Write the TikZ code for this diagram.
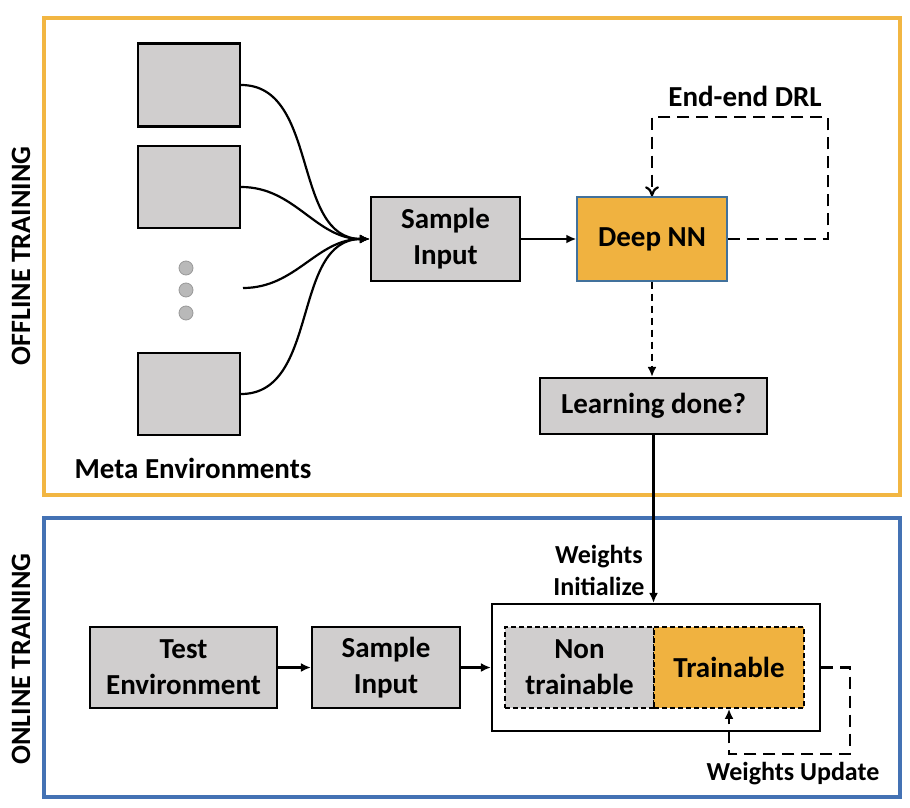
\documentclass[tikz,border=0pt]{standalone}
\usepackage{fontspec}
\setmainfont{Carlito}
\usetikzlibrary{arrows.meta}
\definecolor{boxgray}{RGB}{208,206,206}
\definecolor{nnorange}{RGB}{240,178,64}
\definecolor{offorange}{RGB}{242,182,66}
\definecolor{onblue}{RGB}{68,114,180}
\definecolor{nnborder}{RGB}{65,113,156}
\begin{document}
\begin{tikzpicture}[x=1pt,y=-1pt,
    blk/.style={draw=black, line width=2.2pt, fill=boxgray, align=center,
        inner sep=0pt, font=\fontsize{29}{36}\selectfont\bfseries},
    part/.style={blk, line width=1.8pt, dash pattern=on 5pt off 3pt},
    lbl/.style={font=\fontsize{26}{32}\selectfont\bfseries, align=center},
    arr/.style={line width=2.2pt, -{Latex[length=10pt,width=9pt]}},
    dashline/.style={line width=2.2pt, dash pattern=on 12pt off 7pt}]
    \useasboundingbox (0,0) rectangle (910,808);
    % the two stages
    \draw[offorange, line width=3.8pt] (44,18) rectangle (900,495);
    \draw[onblue, line width=3.8pt] (44,518) rectangle (900,797);
    \node[rotate=90, font=\fontsize{28}{34}\selectfont\bfseries] (offlbl) at (21,256) {OFFLINE TRAINING};
    \node[rotate=90, font=\fontsize{28}{34}\selectfont\bfseries] (onlbl) at (21,659) {ONLINE TRAINING};
    % meta environments
    \node[blk, minimum width=102pt, minimum height=83pt] (env1) at (189,85) {};
    \node[blk, minimum width=102pt, minimum height=82pt] (env2) at (189,187) {};
    \node[blk, minimum width=102pt, minimum height=82pt] (env4) at (189,394) {};
    \foreach \y in {268,290,313}
        \filldraw[fill=gray!55, draw=gray!80, line width=0.8pt] (186,\y) circle (7pt);
    \coordinate (env3) at (243,288);
    \node[lbl, font=\fontsize{29}{36}\selectfont\bfseries] (meta) at (193,468) {Meta Environments};
    % offline path
    \node[blk, minimum width=149pt, minimum height=84pt] (smp) at (445.5,239) {Sample\\Input};
    \node[blk, fill=nnorange, draw=nnborder, line width=1.4pt, minimum width=150pt, minimum height=84pt] (dnn) at (652,239) {Deep NN};
    \node[blk, minimum width=227pt, minimum height=56pt] (done) at (653.5,406) {Learning done?};
    \foreach \e in {env1,env2,env3,env4}
        \draw[arr] (\e.east) to[out=0,in=180] (smp.west);
    \draw[arr] (smp) -- (dnn);
    \coordinate (drl) at (828,117);
    \draw[dashline, -{To[length=10pt,width=14pt]}] (dnn.east) -| (drl) -| (dnn.north);
    \node[lbl, font=\fontsize{29}{36}\selectfont\bfseries] (drllbl) at (745,96) {End-end DRL};
    \draw[line width=2.2pt, dash pattern=on 7pt off 5pt, -{Latex[length=10pt,width=9pt]}] (dnn.south) -- (dnn.south |- done.north);
    % online path
    \node[blk, minimum width=187pt, minimum height=81pt] (test) at (183.5,667.5) {Test\\Environment};
    \node[blk, minimum width=148pt, minimum height=81pt] (smp2) at (386,667.5) {Sample\\Input};
    \node[draw=black, line width=2.2pt, fill=white, minimum width=328pt, minimum height=127pt] (frame) at (656,667.5) {};
    \node[part, minimum width=149pt, minimum height=81pt] (nontr) at (579.5,667.5) {Non\\trainable};
    \node[part, fill=nnorange, minimum width=150pt, minimum height=81pt] (tr) at (729,667.5) {Trainable};
    \draw[arr] (test) -- (smp2);
    \draw[arr] (smp2) -- (frame);
    \draw[arr] (done.south) -- (done.south |- frame.north);
    \node[lbl, anchor=east] (init) at (648,570) {Weights\\Initialize};
    \coordinate (upd) at (850,754);
    \draw[dashline, -{Latex[length=10pt,width=9pt]}] (frame.east) -| (upd) -| (tr.south);
    \node[lbl] (updlbl) at (793,774) {Weights Update};
\end{tikzpicture}
\end{document}
